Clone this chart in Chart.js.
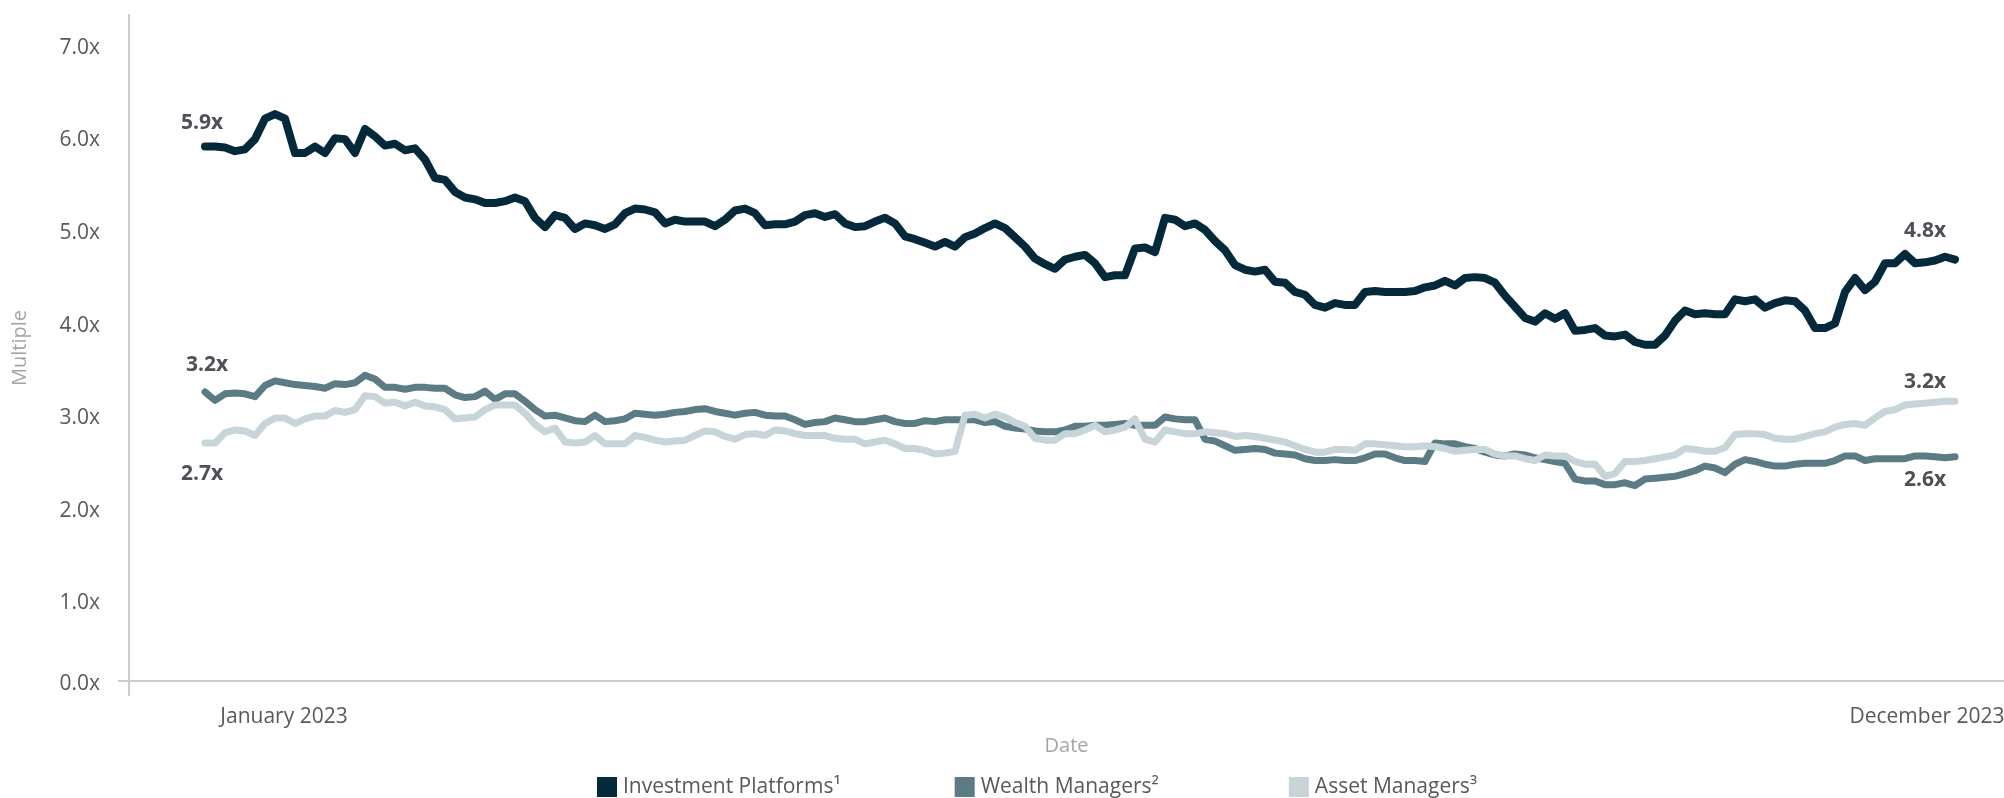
<!DOCTYPE html>
<html>
<head>
<meta charset="utf-8">
<title>Multiples</title>
<script src="https://cdn.jsdelivr.net/npm/chart.js@4.4.1/dist/chart.umd.min.js"></script>
<style>
  html, body { margin: 0; padding: 0; background: #fff; }
  #wrap { width: 2004px; height: 798px; position: relative; }
</style>
</head>
<body>
<div id="wrap"><canvas id="multiples"></canvas></div>
<script>
// series (one value per sample step)
const seriesNames = ['Investment Platforms¹', 'Wealth Managers²', 'Asset Managers³'];

const investmentPlatforms = [
  5.90, 5.90, 5.89, 5.85, 5.87, 5.98, 6.20, 6.25, 6.20, 5.83,
  5.83, 5.90, 5.83, 5.99, 5.98, 5.83, 6.09, 6.01, 5.91, 5.93,
  5.86, 5.88, 5.76, 5.56, 5.54, 5.41, 5.35, 5.33, 5.29, 5.29,
  5.31, 5.35, 5.31, 5.13, 5.03, 5.16, 5.13, 5.01, 5.07, 5.05,
  5.01, 5.06, 5.18, 5.23,
  5.22, 5.19, 5.07, 5.11, 5.09, 5.09, 5.09, 5.04, 5.11, 5.21,
  5.23, 5.18, 5.05, 5.06, 5.06, 5.09, 5.16, 5.18, 5.14, 5.17,
  5.07, 5.03, 5.04, 5.09, 5.13, 5.07, 4.93, 4.90, 4.86, 4.82,
  4.87, 4.82, 4.92, 4.96, 5.02, 5.07, 5.02, 4.92, 4.82, 4.69,
  4.63, 4.58, 4.68, 4.71,
  4.73, 4.64, 4.49, 4.51, 4.51, 4.80, 4.81, 4.76, 5.13, 5.11,
  5.04, 5.07, 5.00, 4.88, 4.78, 4.62, 4.57, 4.55, 4.57, 4.44,
  4.43, 4.33, 4.30, 4.19, 4.16, 4.21, 4.19, 4.19, 4.33, 4.34,
  4.33, 4.33, 4.33, 4.34, 4.38, 4.40, 4.45, 4.40, 4.48, 4.49,
  4.48, 4.43, 4.29, 4.17,
  4.05, 4.01, 4.10, 4.04, 4.10, 3.91, 3.92, 3.94, 3.86, 3.85,
  3.87, 3.79, 3.76, 3.76, 3.86, 4.02, 4.13, 4.09, 4.10, 4.09,
  4.09, 4.25, 4.23, 4.25, 4.16, 4.21, 4.24, 4.23, 4.13, 3.94,
  3.94, 3.99, 4.33, 4.48, 4.35, 4.44, 4.64, 4.64, 4.74, 4.64,
  4.65, 4.67, 4.71, 4.68
];

const wealthManagers = [
  3.25, 3.16, 3.23, 3.24, 3.23, 3.20, 3.32, 3.37, 3.35, 3.33,
  3.32, 3.31, 3.29, 3.34, 3.33, 3.35, 3.43, 3.39, 3.30, 3.30,
  3.28, 3.30, 3.30, 3.29, 3.29, 3.22, 3.19, 3.20, 3.26, 3.17,
  3.23, 3.23, 3.15, 3.06, 2.99, 3.00, 2.97, 2.94, 2.93, 3.00,
  2.93, 2.94, 2.96, 3.02,
  3.01, 3.00, 3.01, 3.03, 3.04, 3.06, 3.07, 3.04, 3.02, 3.00,
  3.02, 3.03, 3.00, 2.99, 2.99, 2.95, 2.90, 2.92, 2.93, 2.97,
  2.95, 2.93, 2.93, 2.95, 2.97, 2.93, 2.91, 2.91, 2.94, 2.93,
  2.95, 2.95, 2.95, 2.95, 2.92, 2.93, 2.88, 2.86, 2.85, 2.83,
  2.82, 2.82, 2.84, 2.88,
  2.88, 2.89, 2.89, 2.90, 2.91, 2.89, 2.89, 2.89, 2.98, 2.96,
  2.95, 2.95, 2.74, 2.72, 2.67, 2.62, 2.63, 2.64, 2.63, 2.59,
  2.58, 2.57, 2.53, 2.51, 2.51, 2.52, 2.51, 2.51, 2.54, 2.58,
  2.58, 2.54, 2.51, 2.51, 2.50, 2.70, 2.69, 2.69, 2.66, 2.64,
  2.60, 2.57, 2.56, 2.58,
  2.57, 2.54, 2.52, 2.50, 2.48, 2.31, 2.29, 2.29, 2.25, 2.25,
  2.27, 2.24, 2.31, 2.32, 2.33, 2.34, 2.37, 2.40, 2.45, 2.43,
  2.38, 2.47, 2.52, 2.50, 2.47, 2.45, 2.45, 2.47, 2.48, 2.48,
  2.48, 2.51, 2.56, 2.56, 2.51, 2.53, 2.53, 2.53, 2.53, 2.56,
  2.56, 2.55, 2.54, 2.55
];

const assetManagers = [
  2.70, 2.70, 2.81, 2.84, 2.83, 2.78, 2.91, 2.97, 2.97, 2.91,
  2.96, 2.99, 2.99, 3.05, 3.03, 3.06, 3.21, 3.20, 3.13, 3.14,
  3.10, 3.14, 3.10, 3.09, 3.06, 2.96, 2.97, 2.98, 3.06, 3.11,
  3.11, 3.11, 3.02, 2.90, 2.82, 2.86, 2.71, 2.70, 2.71, 2.78,
  2.69, 2.69, 2.69, 2.78,
  2.76, 2.73, 2.71, 2.72, 2.73, 2.78, 2.83, 2.82, 2.77, 2.74,
  2.79, 2.80, 2.78, 2.84, 2.83, 2.80, 2.78, 2.78, 2.78, 2.75,
  2.74, 2.74, 2.69, 2.71, 2.73, 2.69, 2.64, 2.64, 2.62, 2.58,
  2.59, 2.61, 3.00, 3.01, 2.97, 3.01, 2.98, 2.92, 2.88, 2.75,
  2.73, 2.73, 2.80, 2.80,
  2.84, 2.89, 2.82, 2.84, 2.87, 2.96, 2.74, 2.71, 2.84, 2.82,
  2.80, 2.80, 2.82, 2.81, 2.80, 2.77, 2.78, 2.77, 2.75, 2.73,
  2.71, 2.67, 2.63, 2.60, 2.60, 2.63, 2.63, 2.62, 2.69, 2.69,
  2.68, 2.67, 2.66, 2.66, 2.67, 2.66, 2.64, 2.61, 2.62, 2.63,
  2.63, 2.58, 2.56, 2.56,
  2.53, 2.51, 2.57, 2.56, 2.56, 2.50, 2.47, 2.47, 2.34, 2.37,
  2.50, 2.50, 2.51, 2.53, 2.55, 2.57, 2.64, 2.63, 2.61, 2.61,
  2.65, 2.79, 2.80, 2.80, 2.79, 2.75, 2.74, 2.74, 2.77, 2.80,
  2.82, 2.87, 2.90, 2.91, 2.89, 2.97, 3.04, 3.06, 3.11, 3.12,
  3.13, 3.14, 3.15, 3.15
];

// axis ticks (the axis line sits a little above zero, labelled 0.0x)
const yRange = [0.13, 7.32];
const yTickValues = [0.13, 1, 2, 3, 4, 5, 6, 7];
const xTickLabels = ['January 2023', 'December 2023'];
const xTickAt = [7.9, 172.2];   // sample index where each month label sits
const xRange = [-7.6, 179.9];

// labels printed at the start / end of each line
const startLabels = ['5.9x', '3.2x', '2.7x'];
const endLabels = ['4.8x', '2.6x', '3.2x'];

const colors = ['#03293a', '#5b7c85', '#c7d4d8'];
const labelOffsets = [
  [[-3, -24], [-30, -29]],
  [[2, -27], [-30, 23]],
  [[-3, 31], [-30, -19]]
];
const legendGaps = [114, 130];

const toPoints = arr => arr.map((v, i) => ({ x: i, y: v }));

const pointLabels = {
  id: 'pointLabels',
  afterDatasetsDraw(chart) {
    const ctx = chart.ctx;
    ctx.save();
    ctx.font = 'bold 21px "Open Sans"';
    ctx.fillStyle = '#4e4f57';
    ctx.textAlign = 'center';
    ctx.textBaseline = 'middle';
    chart.data.datasets.forEach((ds, i) => {
      const pts = chart.getDatasetMeta(i).data;
      const first = pts[0];
      const last = pts[pts.length - 1];
      ctx.fillText(startLabels[i], first.x + labelOffsets[i][0][0], first.y + labelOffsets[i][0][1]);
      ctx.fillText(endLabels[i], last.x + labelOffsets[i][1][0], last.y + labelOffsets[i][1][1]);
    });
    ctx.restore();
  }
};

// legend row at the bottom, wide gaps between the items
const bottomLegend = {
  id: 'bottomLegend',
  afterDraw(chart) {
    const ctx = chart.ctx;
    ctx.save();
    ctx.font = '21px "Open Sans"';
    ctx.textBaseline = 'middle';
    let x = 597;
    const y = chart.height - 11;
    chart.data.datasets.forEach((ds, i) => {
      ctx.fillStyle = ds.borderColor;
      ctx.fillRect(x, y - 10, 20, 20);
      ctx.fillStyle = '#58595b';
      ctx.fillText(ds.label, x + 26, y);
      x += 26 + ctx.measureText(ds.label).width + (legendGaps[i] || 0);
    });
    ctx.restore();
  }
};

Chart.defaults.font.family = '"Open Sans", sans-serif';

new Chart(document.getElementById('multiples'), {
  type: 'line',
  data: {
    datasets: [
      { label: seriesNames[0], data: toPoints(investmentPlatforms), borderColor: colors[0], backgroundColor: colors[0], borderWidth: 8, order: 0 },
      { label: seriesNames[1], data: toPoints(wealthManagers), borderColor: colors[1], backgroundColor: colors[1], borderWidth: 7, order: 2 },
      { label: seriesNames[2], data: toPoints(assetManagers), borderColor: colors[2], backgroundColor: colors[2], borderWidth: 7, order: 1 }
    ]
  },
  options: {
    responsive: true,
    maintainAspectRatio: false,
    animation: false,
    layout: { padding: { top: 15, bottom: 40, left: 0, right: 0 } },
    elements: {
      point: { radius: 0 },
      line: { tension: 0, borderJoinStyle: 'round', borderCapStyle: 'round' }
    },
    plugins: {
      legend: { display: false },
      tooltip: { enabled: false }
    },
    scales: {
      x: {
        type: 'linear',
        min: xRange[0],
        max: xRange[1],
        afterBuildTicks: s => { s.ticks = [xRange[0], ...xTickAt].map(v => ({ value: v })); },
        afterFit: s => { s.height = 77; s.paddingLeft = 0; s.paddingRight = 0; },
        ticks: {
          autoSkip: false,
          maxRotation: 0,
          padding: 8,
          color: '#58595b',
          font: { size: 21 },
          callback: (v, i) => i === 0 ? '' : xTickLabels[i - 1]
        },
        grid: {
          drawOnChartArea: false,
          tickLength: 15,
          lineWidth: 2,
          color: c => c.index === 0 ? '#cccccc' : 'rgba(0,0,0,0)'
        },
        border: { display: true, color: '#cccccc', width: 2 },
        title: { display: true, text: 'Date', color: '#a5a5a5', font: { size: 20 }, padding: 0 }
      },
      y: {
        min: yRange[0],
        max: yRange[1],
        afterBuildTicks: s => { s.ticks = yTickValues.map(v => ({ value: v })); },
        afterFit: s => { s.width = 129; s.paddingTop = 0; s.paddingBottom = 0; },
        ticks: {
          padding: 18,
          labelOffset: 3,
          color: '#58595b',
          font: { size: 21 },
          callback: v => Math.round(v).toFixed(1) + 'x'
        },
        grid: {
          drawOnChartArea: false,
          tickLength: 11,
          lineWidth: 2,
          color: c => c.index === 0 ? '#cccccc' : 'rgba(0,0,0,0)'
        },
        border: { display: true, color: '#cccccc', width: 2 },
        title: { display: true, text: 'Multiple', color: '#a5a5a5', font: { size: 20 }, padding: 8 }
      }
    }
  },
  plugins: [pointLabels, bottomLegend]
});
</script>
</body>
</html>
